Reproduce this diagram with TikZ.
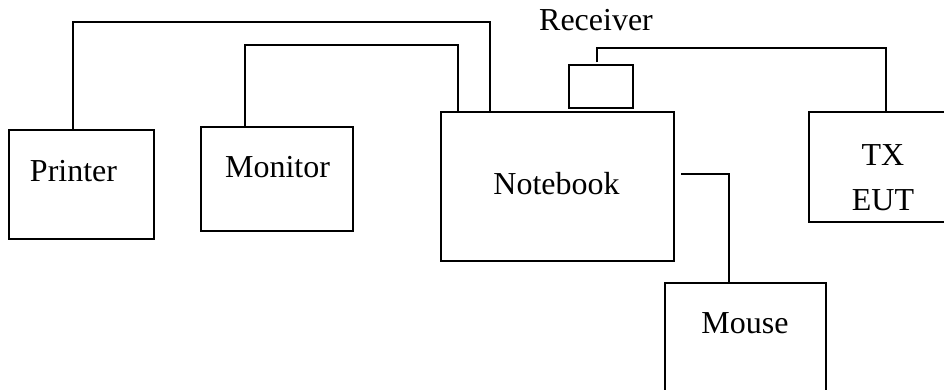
\documentclass[tikz,border=0pt]{standalone}
\usepackage{fontspec}
\setmainfont{Liberation Serif}
\usetikzlibrary{positioning,calc}

\begin{document}
\begin{tikzpicture}[
    box/.style={draw, rectangle, line width=0.8pt, inner sep=0pt},
    lbl/.style={font=\fontsize{18.2}{25.5}\selectfont, inner sep=0pt, align=center},
    cable/.style={line width=0.8pt}
]
\useasboundingbox (0,0) rectangle (18.88,7.8);

% Devices
\node[box, minimum width=2.90cm, minimum height=2.18cm] (printer) at (1.63,4.11) {};
\node[lbl] (printer-lbl) at (1.47,4.38) {Printer};

\node[box, minimum width=3.04cm, minimum height=2.08cm] (monitor) at (5.54,4.22) {};
\node[lbl] (monitor-lbl) at (5.55,4.45) {Monitor};

\node[box, minimum width=4.66cm, minimum height=2.98cm] (notebook) at (11.15,4.07) {};
\node[lbl] (notebook-lbl) at (11.13,4.13) {Notebook};

\node[box, minimum width=1.28cm, minimum height=0.86cm] (receiver) at (12.02,6.07) {};
\node[lbl] (receiver-lbl) at (11.92,7.40) {Receiver};

\node[box, minimum width=3.02cm, minimum height=2.20cm] (tx) at (17.69,4.46) {};
\node[lbl] (tx-lbl) at (17.66,4.25) {TX\\EUT};

\node[box, minimum width=3.22cm, minimum height=2.34cm] (mouse) at (14.91,0.97) {};
\node[lbl] (mouse-lbl) at (14.90,1.33) {Mouse};

% Cable bends
\coordinate (pr-up) at (1.46,7.36);
\coordinate (pr-nb) at (9.80,7.36);
\coordinate (mo-up) at (4.90,6.90);
\coordinate (mo-nb) at (9.16,6.90);
\coordinate (rx-up) at (11.94,6.84);
\coordinate (rx-tx) at (17.72,6.84);
\coordinate (nb-out) at (13.62,4.32);
\coordinate (ms-dn) at (14.58,4.32);

% Cables
\draw[cable] (printer.north -| pr-up) -- (pr-up) -- (pr-nb) -- (pr-nb |- notebook.north);
\draw[cable] (monitor.north -| mo-up) -- (mo-up) -- (mo-nb) -- (mo-nb |- notebook.north);
\draw[cable] ([yshift=0.04cm]receiver.north -| rx-up) -- (rx-up) -- (rx-tx) -- (rx-tx |- tx.north);
\draw[cable] (nb-out) -- (ms-dn) -- (ms-dn |- mouse.north);

\end{tikzpicture}
\end{document}
